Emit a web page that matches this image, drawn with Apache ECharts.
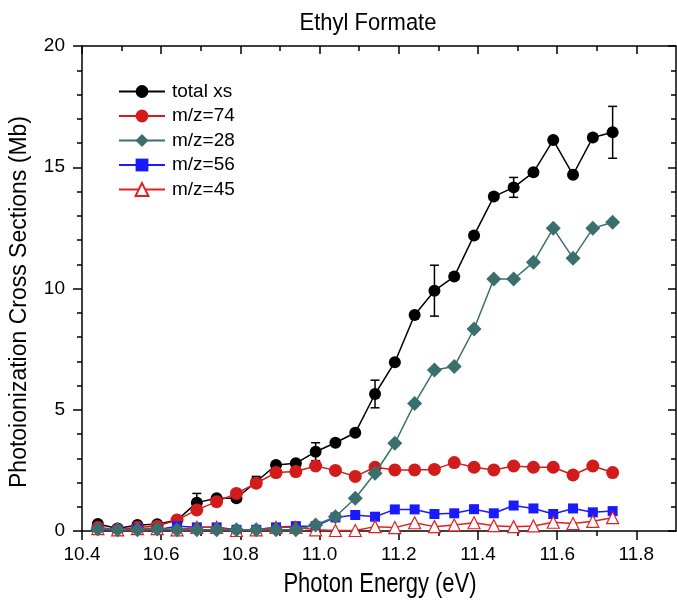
<!DOCTYPE html>
<html>
<head>
<meta charset="utf-8">
<script src="https://cdn.jsdelivr.net/npm/echarts@6/dist/echarts.min.js"></script>
<style>
html,body{margin:0;padding:0;background:#fff;}
#chart{width:677px;height:600px;}
</style>
</head>
<body>
<div id="chart"></div>
<script>
const energy = [10.44,10.49,10.54,10.59,10.64,10.69,10.74,10.79,10.84,10.89,10.94,10.99,11.04,11.09,11.14,11.19,11.24,11.29,11.34,11.39,11.44,11.49,11.54,11.59,11.64,11.69,11.74];
const totalXs = [0.29,0.10,0.25,0.28,0.45,1.17,1.35,1.35,2.03,2.72,2.79,3.27,3.64,4.05,5.65,6.96,8.91,9.91,10.49,12.19,13.79,14.17,14.79,16.12,14.69,16.23,16.44];
const totalErr = [null,null,null,null,null,0.38,null,null,0.22,null,null,0.37,null,null,0.57,null,null,1.05,null,null,null,0.41,null,null,null,null,1.07];
const mz74 = [0.15,0.05,0.15,0.20,0.45,0.87,1.21,1.55,1.97,2.41,2.45,2.68,2.50,2.25,2.63,2.52,2.52,2.54,2.82,2.63,2.52,2.68,2.63,2.63,2.31,2.68,2.41];
const mz28 = [0.08,0.05,0.05,0.08,0.05,0.05,0.05,0.05,0.05,0.05,0.05,0.25,0.59,1.35,2.38,3.62,5.26,6.64,6.78,8.33,10.39,10.39,11.08,12.48,11.25,12.48,12.73];
const mz56 = [0.05,0.02,0.10,0.05,0.20,0.15,0.15,0.05,0.05,0.15,0.20,0.20,0.56,0.66,0.59,0.89,0.89,0.70,0.73,0.90,0.73,1.05,0.93,0.70,0.93,0.77,0.82];
const mz45 = [0.10,0.05,0.10,0.10,0.05,0.15,0.15,0.02,0.05,0.15,0.15,0.05,0.02,0.02,0.18,0.14,0.34,0.18,0.25,0.34,0.22,0.18,0.21,0.36,0.31,0.40,0.55];
const xMajorTicks = [10.4,10.6,10.8,11.0,11.2,11.4,11.6,11.8];
const xMinorTicks = [10.5,10.7,10.9,11.1,11.3,11.5,11.7];
const seriesNames = ['total xs','m/z=74','m/z=28','m/z=56','m/z=45'];
const chartTitle = 'Ethyl Formate';
const xTitle = 'Photon Energy (eV)';
const yTitle = 'Photoionization Cross Sections (Mb)';

const FONT = 'Liberation Sans, Arial, sans-serif';
const pairs = arr => energy.map((x, i) => [x, arr[i]]);
const errData = [];
energy.forEach((x, i) => { if (totalErr[i] != null) errData.push([x, totalXs[i] - totalErr[i], totalXs[i] + totalErr[i]]); });

const chart = echarts.init(document.getElementById('chart'), null, {renderer: 'canvas'});

const baseX = {type: 'value', min: 10.4, max: 11.9, gridIndex: 0, splitLine: {show: false}};
const lineStyle = {color: '#000', width: 1.5};

const option = {
  backgroundColor: '#fff',
  animation: false,
  graphic: [
    {type: 'text', x: 368, y: 23, scaleY: 1.12, z: 10,
     style: {text: chartTitle, fontFamily: FONT, fontSize: 22, fill: '#000', textAlign: 'center', textVerticalAlign: 'middle'}},
    {type: 'text', x: 380, y: 585, scaleY: 1.22, z: 10,
     style: {text: xTitle, fontFamily: FONT, fontSize: 22, fill: '#000', textAlign: 'center', textVerticalAlign: 'middle'}},
    {type: 'text', x: 20, y: 302, rotation: Math.PI / 2, z: 10,
     style: {text: yTitle, fontFamily: FONT, fontSize: 23, fill: '#000', textAlign: 'center', textVerticalAlign: 'middle'}}
  ],
  grid: {left: 82, right: 1, top: 46, bottom: 69, containLabel: false},
  legend: {
    orient: 'vertical', left: 113, top: 77,
    itemWidth: 46, itemHeight: 16, itemGap: 5.5,
    data: seriesNames,
    textStyle: {fontFamily: FONT, fontSize: 19, lineHeight: 16, color: '#000', padding: [0, 0, 0, 2]}
  },
  xAxis: [
    Object.assign({}, baseX, {
      position: 'bottom',
      axisLine: {show: true, onZero: false, lineStyle: lineStyle},
      axisTick: {show: true, inside: false, length: 9, lineStyle: lineStyle, customValues: xMajorTicks},
      axisLabel: {show: true, margin: 14, fontFamily: FONT, fontSize: 19, color: '#000', customValues: xMajorTicks,
        formatter: v => v.toFixed(1)}
    }),
    Object.assign({}, baseX, {
      position: 'bottom',
      axisLine: {show: false, onZero: false},
      axisTick: {show: true, inside: false, length: 5, lineStyle: lineStyle, customValues: xMinorTicks},
      axisLabel: {show: false}
    }),
    Object.assign({}, baseX, {
      position: 'top',
      axisLine: {show: true, onZero: false, lineStyle: lineStyle},
      axisTick: {show: true, inside: true, length: 8, lineStyle: lineStyle, customValues: xMajorTicks},
      axisLabel: {show: false}
    }),
    Object.assign({}, baseX, {
      position: 'top',
      axisLine: {show: false, onZero: false},
      axisTick: {show: true, inside: true, length: 5, lineStyle: lineStyle, customValues: xMinorTicks},
      axisLabel: {show: false}
    })
  ],
  yAxis: [
    {
      type: 'value', min: 0, max: 20, interval: 5, position: 'left',
      axisLine: {show: true, onZero: false, lineStyle: lineStyle},
      axisTick: {show: true, inside: false, length: 9, lineStyle: lineStyle},
      minorTick: {show: true, splitNumber: 5, length: 5, lineStyle: lineStyle},
      axisLabel: {margin: 17, fontFamily: FONT, fontSize: 19, color: '#000'},
      splitLine: {show: false}, minorSplitLine: {show: false}
    },
    {
      type: 'value', min: 0, max: 20, interval: 5, position: 'right',
      axisLine: {show: true, onZero: false, lineStyle: lineStyle},
      axisTick: {show: true, inside: true, length: 8, lineStyle: lineStyle},
      minorTick: {show: true, splitNumber: 5, length: 5, lineStyle: lineStyle},
      axisLabel: {show: false},
      splitLine: {show: false}, minorSplitLine: {show: false}
    }
  ],
  series: [
    {
      name: 'total xs', type: 'line', data: pairs(totalXs), z: 2,
      symbol: 'circle', symbolSize: 12,
      lineStyle: {color: '#000', width: 1.5}, itemStyle: {color: '#000'}
    },
    {
      name: 'total-err', type: 'custom', data: errData, z: 2,
      renderItem: function (params, api) {
        const x = api.value(0);
        const lo = api.coord([x, api.value(1)]);
        const hi = api.coord([x, api.value(2)]);
        const w = 4.5;
        const st = {stroke: '#000', lineWidth: 1.5, fill: null};
        return {type: 'group', children: [
          {type: 'line', shape: {x1: lo[0], y1: lo[1], x2: hi[0], y2: hi[1]}, style: st},
          {type: 'line', shape: {x1: hi[0] - w, y1: hi[1], x2: hi[0] + w, y2: hi[1]}, style: st},
          {type: 'line', shape: {x1: lo[0] - w, y1: lo[1], x2: lo[0] + w, y2: lo[1]}, style: st}
        ]};
      }
    },
    {
      name: 'm/z=74', type: 'line', data: pairs(mz74), z: 3,
      symbol: 'circle', symbolSize: 13,
      lineStyle: {color: '#d21c1c', width: 1.5}, itemStyle: {color: '#d21c1c'}
    },
    {
      name: 'm/z=56', type: 'line', data: pairs(mz56), z: 4,
      symbol: 'rect', symbolSize: 10,
      lineStyle: {color: '#1a1aff', width: 1.5}, itemStyle: {color: '#1a1aff'}
    },
    {
      name: 'm/z=45', type: 'line', data: pairs(mz45), z: 5,
      symbol: 'triangle', symbolSize: 12,
      lineStyle: {color: '#e02020', width: 1.5},
      itemStyle: {color: '#ffffff', borderColor: '#e02020', borderWidth: 1.2}
    },
    {
      name: 'm/z=28', type: 'line', data: pairs(mz28), z: 6,
      symbol: 'diamond', symbolSize: 15,
      lineStyle: {color: '#3b6f6d', width: 1.5}, itemStyle: {color: '#3b6f6d'}
    }
  ]
};
chart.setOption(option);
</script>
</body>
</html>
